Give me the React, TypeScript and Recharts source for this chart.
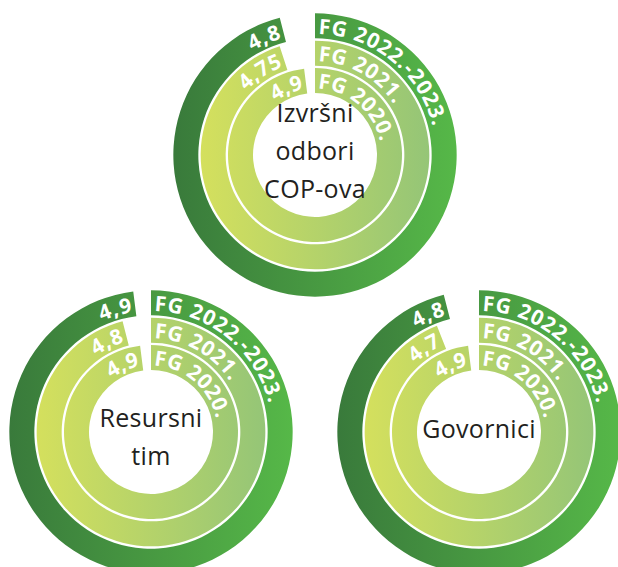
import React from 'react';
import { RadialBarChart, RadialBar, PolarAngleAxis, LabelList, Cell } from 'recharts';

// rings, innermost first
const categories = ['FG 2020.', 'FG 2021.', 'FG 2022.-2023.'];
const izvrsniValues = [4.9, 4.75, 4.8];
const resursniValues = [4.9, 4.8, 4.9];
const govorniciValues = [4.9, 4.7, 4.8];
const maxScore = 5;

const SIZE = 290;
const C = SIZE / 2;
const INNER = 61;
const OUTER = 143;
const RAD = Math.PI / 180;

const pt = (cx: number, cy: number, r: number, a: number) => ({
  x: cx + r * Math.cos(-a * RAD),
  y: cy + r * Math.sin(-a * RAD),
});

// clockwise arc from angle a0 down to a1
const arcPath = (cx: number, cy: number, r: number, a0: number, a1: number) => {
  const p0 = pt(cx, cy, r, a0);
  const p1 = pt(cx, cy, r, a1);
  const large = a0 - a1 > 180 ? 1 : 0;
  return `M${p0.x},${p0.y} A${r},${r} 0 ${large} 1 ${p1.x},${p1.y}`;
};

const labelStyle = {
  fontFamily: '"Open Sans", sans-serif',
  fontWeight: 700,
  fontSize: 21,
  letterSpacing: 1.6,
};

const makeArcLabel = (prefix: string, kind: 'name' | 'value') => (props: any) => {
  const { viewBox, value, index } = props;
  if (!viewBox || viewBox.innerRadius == null) return null;
  const { cx, cy, innerRadius, outerRadius, startAngle, endAngle } = viewBox;
  const r = (innerRadius + outerRadius) / 2;
  const id = `${prefix}-${kind}-${index}`;
  const d = arcPath(cx, cy, r, startAngle, endAngle);
  const len = r * (startAngle - endAngle) * RAD;
  const text = kind === 'value' ? String(value).replace('.', ',') : String(value);
  return (
    <text fill="#ffffff" dominantBaseline="central" style={labelStyle}>
      <defs>
        <path id={id} d={d} />
      </defs>
      <textPath
        href={`#${id}`}
        startOffset={kind === 'value' ? len - 3 : 4}
        textAnchor={kind === 'value' ? 'end' : 'start'}
      >
        {text}
      </textPath>
    </text>
  );
};

interface RingProps {
  id: string;
  values: number[];
  title: string[];
  left: number;
  top: number;
  textShift?: number;
}

const Ring: React.FC<RingProps> = ({ id, values, title, left, top, textShift = 0 }) => {
  const data = categories.map((name, i) => ({ name, value: values[i] }));
  return (
    <div style={{ position: 'absolute', left, top, width: SIZE, height: SIZE }}>
      <RadialBarChart
        width={SIZE}
        height={SIZE}
        cx={C}
        cy={C}
        data={data}
        innerRadius={INNER}
        outerRadius={OUTER}
        startAngle={90}
        endAngle={-270}
        barSize={25}
        margin={{ top: 0, right: 0, bottom: 0, left: 0 }}
      >
        <defs>
          <linearGradient id={`${id}-dark`} gradientUnits="userSpaceOnUse" x1={C - 142} y1={0} x2={C + 142} y2={0}>
            <stop offset="0%" stopColor="#397a3b" />
            <stop offset="100%" stopColor="#56b848" />
          </linearGradient>
          <linearGradient id={`${id}-light`} gradientUnits="userSpaceOnUse" x1={C - 142} y1={0} x2={C + 142} y2={0}>
            <stop offset="0%" stopColor="#dce35a" />
            <stop offset="100%" stopColor="#8dc27a" />
          </linearGradient>
        </defs>
        <PolarAngleAxis type="number" domain={[0, maxScore]} tick={false} tickLine={false} axisLine={false} />
        <RadialBar dataKey="value" isAnimationActive={false}>
          {data.map((_, i) => (
            <Cell key={i} fill={i === data.length - 1 ? `url(#${id}-dark)` : `url(#${id}-light)`} />
          ))}
          <LabelList dataKey="name" content={makeArcLabel(id, 'name')} />
          <LabelList dataKey="value" content={makeArcLabel(id, 'value')} />
        </RadialBar>
      </RadialBarChart>
      <div
        style={{
          position: 'absolute',
          inset: 0,
          display: 'flex',
          flexDirection: 'column',
          alignItems: 'center',
          justifyContent: 'center',
          paddingTop: Math.max(textShift, 0),
          paddingBottom: Math.max(-textShift, 0),
          boxSizing: 'border-box',
          fontFamily: '"Open Sans", sans-serif',
          fontSize: 25,
          letterSpacing: 0.3,
          lineHeight: '38px',
          color: '#231f20',
          pointerEvents: 'none',
        }}
      >
        {title.map((t) => (
          <div key={t}>{t}</div>
        ))}
      </div>
    </div>
  );
};

export default function App() {
  return (
    <div
      style={{
        position: 'absolute',
        left: 0,
        top: 0,
        width: 618,
        height: 567,
        overflow: 'hidden',
        background: '#ffffff',
      }}
    >
      <Ring id="izv" values={izvrsniValues} title={['Izvršni', 'odbori', 'COP-ova']} left={170} top={10} textShift={-10} />
      <Ring id="res" values={resursniValues} title={['Resursni', 'tim']} left={6} top={287} textShift={8} />
      <Ring id="gov" values={govorniciValues} title={['Govornici']} left={334} top={287} textShift={-8} />
    </div>
  );
}
